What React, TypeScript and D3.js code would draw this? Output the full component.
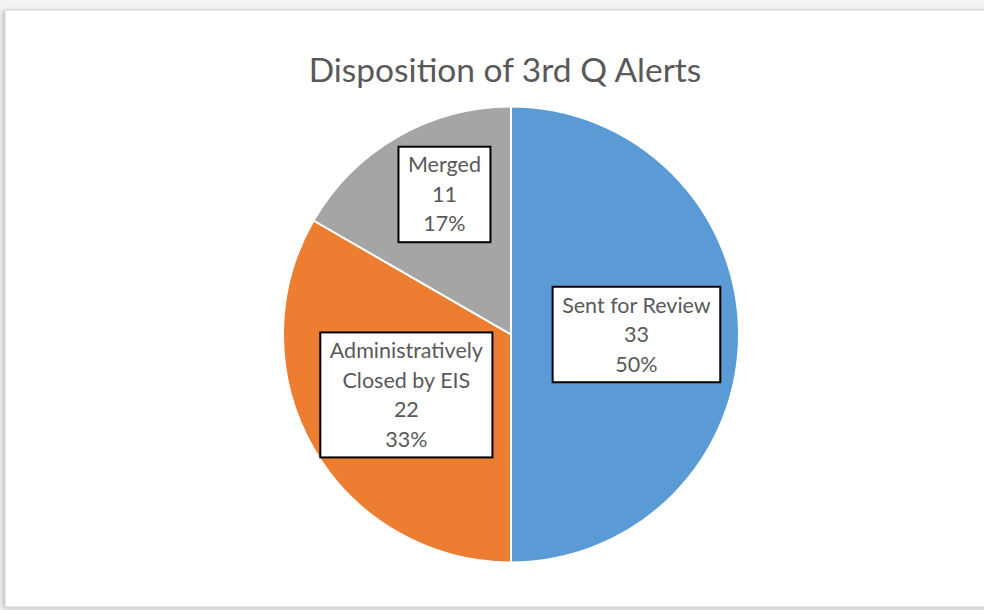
import * as d3 from 'd3';
import React, { useEffect, useRef } from 'react';

// chart data
const categories = ['Sent for Review', 'Administratively Closed by EIS', 'Merged'];
const labelLines = [['Sent for Review'], ['Administratively', 'Closed by EIS'], ['Merged']];
const counts = [33, 22, 11];
const colors = ['#5B9BD5', '#ED7D31', '#A5A5A5'];
const title = 'Disposition of 3rd Q Alerts';

// label placement (fraction of radius, angle nudge in radians) like Excel best fit
const labelPlace = [
  { r: 0.55, da: 0 },
  { r: 0.53, da: 0 },
  { r: 0.68, da: 0.08 },
];

export default function App() {
  const svgRef = useRef<SVGSVGElement>(null);
  const width = 984;
  const height = 610;
  const cx = 511;
  const cy = 334.5;
  const radius = 228;

  useEffect(() => {
    const svg = d3.select(svgRef.current);
    svg.selectAll('*').remove();

    // page bg + frame
    svg.append('rect').attr('width', width).attr('height', height).attr('fill', '#f4f4f4');
    const defs = svg.append('defs');
    const f = defs.append('filter').attr('id', 'sh').attr('x', '-5%').attr('y', '-5%').attr('width', '110%').attr('height', '110%');
    f.append('feDropShadow').attr('dx', -2).attr('dy', 1).attr('stdDeviation', 2).attr('flood-color', '#999').attr('flood-opacity', 0.6);
    svg.append('rect')
      .attr('x', 5).attr('y', 10).attr('width', width + 10).attr('height', 597)
      .attr('fill', '#ffffff').attr('stroke', '#d4d4d4').attr('stroke-width', 1)
      .attr('filter', 'url(#sh)');

    svg.append('text')
      .attr('x', 505).attr('y', 82)
      .attr('text-anchor', 'middle')
      .attr('font-family', 'Lato, "Open Sans", sans-serif')
      .attr('font-size', 33.5)
      .attr('fill', '#595959')
      .text(title);

    const total = d3.sum(counts);
    const pie = d3.pie<number>().sort(null).value(d => d);
    const arcs = pie(counts);
    const arc = d3.arc<d3.PieArcDatum<number>>().innerRadius(0).outerRadius(radius);

    const g = svg.append('g').attr('transform', `translate(${cx},${cy})`);
    g.selectAll('path')
      .data(arcs)
      .enter()
      .append('path')
      .attr('d', arc)
      .attr('fill', (d, i) => colors[i])
      .attr('stroke', '#fff')
      .attr('stroke-width', 2)
      .attr('stroke-linejoin', 'round');

    const lineH = 29.5;
    arcs.forEach((d, i) => {
      const mid = (d.startAngle + d.endAngle) / 2 + labelPlace[i].da;
      const rr = radius * labelPlace[i].r;
      const lx = Math.sin(mid) * rr;
      const ly = -Math.cos(mid) * rr;
      const lines = [...labelLines[i], String(counts[i]), d3.format('.0%')(counts[i] / total)];
      const lg = g.append('g').attr('transform', `translate(${lx},${ly})`);
      const box = lg.append('rect');
      const t = lg.append('text')
        .attr('text-anchor', 'middle')
        .attr('font-family', 'Lato, "Open Sans", sans-serif')
        .attr('font-size', 21.5)
        .attr('fill', '#595959');
      const y0 = -((lines.length - 1) * lineH) / 2;
      lines.forEach((s, j) => {
        t.append('tspan').attr('x', 0).attr('y', y0 + j * lineH).attr('dy', '0.35em').text(s);
      });
      const bb = (t.node() as SVGTextElement).getBBox();
      const padX = 9.5;
      const h = lines.length * lineH + 7;
      box.attr('x', bb.x - padX).attr('y', -h / 2)
        .attr('width', bb.width + padX * 2).attr('height', h)
        .attr('fill', '#fff').attr('stroke', '#000').attr('stroke-width', 2);
    });
  }, []);

  return (
    <div style={{ position: 'absolute', left: 0, top: 0 }}>
      <svg ref={svgRef} width={width} height={height} style={{ display: 'block' }} />
    </div>
  );
}
